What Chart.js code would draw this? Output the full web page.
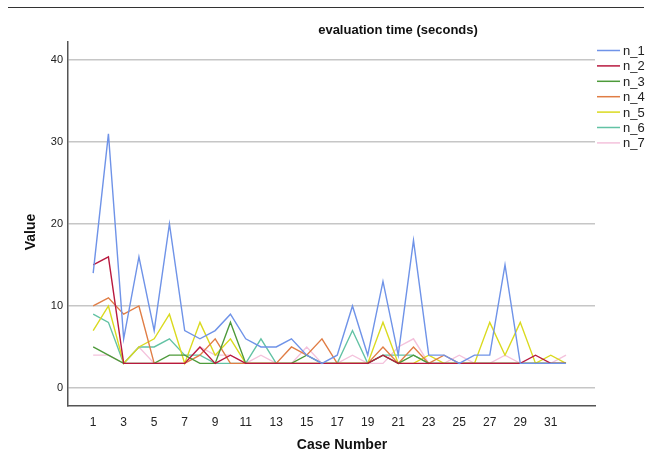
<!DOCTYPE html>
<html>
<head>
<meta charset="utf-8">
<script src="https://cdn.jsdelivr.net/npm/chart.js@4.4.1/dist/chart.umd.min.js"></script>
<style>
  html, body { margin: 0; padding: 0; background: #fff; }
  #wrap { width: 652px; height: 470px; }
</style>
</head>
<body>
<div id="wrap"><canvas id="c" width="652" height="470"></canvas></div>
<script>
const cases = [1,2,3,4,5,6,7,8,9,10,11,12,13,14,15,16,17,18,19,20,21,22,23,24,25,26,27,28,29,30,31,32];
const xTicks = [1,3,5,7,9,11,13,15,17,19,21,23,25,27,29,31];
const yTicks = [0,10,20,30,40];

const n_1 = [14,31,6,16,7,20,7,6,7,9,6,5,5,6,4,3,4,10,4,13,4,18,4,4,3,4,4,15,3,3,3,3];
const n_2 = [15,16,3,3,3,3,3,5,3,4,3,3,3,3,3,3,3,3,3,4,3,3,3,3,3,3,3,3,3,4,3,3];
const n_3 = [5,4,3,3,3,4,4,3,3,8,3,3,3,3,4,3,3,3,3,4,3,4,3,3,3,3,3,3,3,3,3,3];
const n_4 = [10,11,9,10,3,3,3,4,6,3,3,3,3,5,4,6,3,3,3,5,3,5,3,4,3,3,3,3,3,3,3,3];
const n_5 = [7,10,3,5,6,9,3,8,4,6,3,3,3,3,3,3,3,3,3,8,3,3,4,3,3,3,8,4,8,3,4,3];
const n_6 = [9,8,3,5,5,6,4,4,3,3,3,6,3,3,3,3,3,7,3,4,4,4,3,3,3,3,3,3,3,3,3,3];
const n_7 = [4,4,3,5,3,3,3,5,4,4,3,4,3,3,5,3,3,4,3,3,5,6,3,3,4,3,3,4,3,3,3,4];

const seriesNames = ['n_1','n_2','n_3','n_4','n_5','n_6','n_7'];
const seriesValues = [n_1, n_2, n_3, n_4, n_5, n_6, n_7];
const seriesColors = ['#6f93e8','#b8193f','#4d9a3a','#e07d45','#dada1e','#62c2a4','#f4c2dc'];

// draws the title, axis titles, legend and the rule at the top
const extras = {
  id: 'extras',
  afterDraw(chart) {
    const ctx = chart.ctx;
    ctx.save();
    ctx.strokeStyle = '#333';
    ctx.lineWidth = 1;
    ctx.beginPath();
    ctx.moveTo(8, 7.5);
    ctx.lineTo(644, 7.5);
    ctx.stroke();

    ctx.fillStyle = '#111';
    ctx.textAlign = 'center';
    ctx.textBaseline = 'middle';
    ctx.font = 'bold 13px "Liberation Sans", Arial, sans-serif';
    ctx.fillText('evaluation time (seconds)', 398, 30);

    ctx.font = 'bold 14px "Liberation Sans", Arial, sans-serif';
    ctx.fillText('Case Number', 342, 445);
    ctx.save();
    ctx.translate(31, 232);
    ctx.rotate(-Math.PI / 2);
    ctx.fillText('Value', 0, 0);
    ctx.restore();

    ctx.textAlign = 'left';
    ctx.font = '13px "Liberation Sans", Arial, sans-serif';
    chart.data.datasets.forEach((ds, i) => {
      const y = 50.5 + i * 15.4;
      ctx.strokeStyle = ds.borderColor;
      ctx.lineWidth = 1.5;
      ctx.beginPath();
      ctx.moveTo(597, y);
      ctx.lineTo(620, y);
      ctx.stroke();
      ctx.fillStyle = '#222';
      ctx.fillText(ds.label, 623, y + 1);
    });
    ctx.restore();
  }
};

new Chart(document.getElementById('c'), {
  type: 'line',
  data: {
    datasets: seriesNames.map((name, i) => ({
      label: name,
      data: cases.map((c, j) => ({x: c, y: seriesValues[i][j]})),
      borderColor: seriesColors[i],
      backgroundColor: seriesColors[i],
      borderWidth: 1.4,
      pointRadius: 0,
      tension: 0,
      fill: false
    }))
  },
  options: {
    responsive: false,
    animation: false,
    layout: { padding: { left: 0, top: 42, right: 57, bottom: 0 } },
    plugins: {
      legend: { display: false },
      title: { display: false },
      tooltip: { enabled: false }
    },
    scales: {
      x: {
        type: 'linear',
        min: -0.65,
        max: 33.9,
        afterBuildTicks: s => { s.ticks = xTicks.map(v => ({value: v})); },
        afterFit: s => { s.height = 64; },
        grid: { display: false, drawTicks: false },
        border: { display: true, color: '#555', width: 1.5 },
        ticks: {
          color: '#222',
          padding: 9,
          maxRotation: 0,
          autoSkip: false,
          font: { family: '"Liberation Sans", Arial, sans-serif', size: 12 }
        }
      },
      y: {
        min: -2.2,
        max: 42.2,
        afterBuildTicks: s => { s.ticks = yTicks.map(v => ({value: v})); },
        afterFit: s => { s.width = 68; },
        grid: { color: '#c6c6c6', lineWidth: 1.6, drawTicks: false },
        border: { display: true, color: '#555', width: 1.5 },
        ticks: {
          color: '#222',
          padding: 5,
          font: { family: '"Liberation Sans", Arial, sans-serif', size: 11 }
        }
      }
    }
  },
  plugins: [extras]
});
</script>
</body>
</html>
